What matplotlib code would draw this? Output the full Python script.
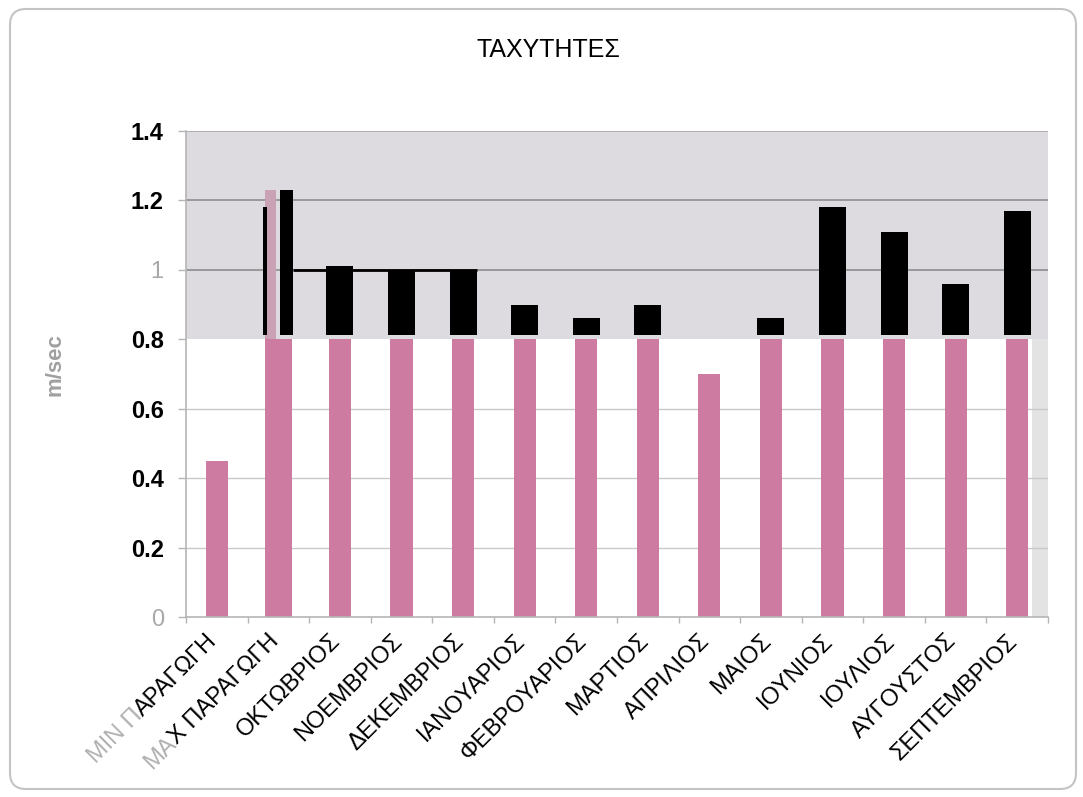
import matplotlib
matplotlib.use("Agg")
import matplotlib.pyplot as plt
import matplotlib.patches as mpatches
import matplotlib.transforms as mtransforms
import numpy as np

plt.rcParams['font.family'] = ['Liberation Sans', 'DejaVu Sans']

# Monthly speeds (m/sec), plus min / max production thresholds
categories = ["MIN ΠΑΡΑΓΩΓΗ", "MAX ΠΑΡΑΓΩΓΗ", "ΟΚΤΩΒΡΙΟΣ", "ΝΟΕΜΒΡΙΟΣ",
              "ΔΕΚΕΜΒΡΙΟΣ", "ΙΑΝΟΥΑΡΙΟΣ", "ΦΕΒΡΟΥΑΡΙΟΣ", "ΜΑΡΤΙΟΣ",
              "ΑΠΡΙΛΙΟΣ", "ΜΑΙΟΣ", "ΙΟΥΝΙΟΣ", "ΙΟΥΛΙΟΣ", "ΑΥΓΟΥΣΤΟΣ",
              "ΣΕΠΤΕΜΒΡΙΟΣ"]
speeds = [0.45, 1.23, 1.01, 1.00, 1.00, 0.90, 0.86, 0.90, 0.70, 0.86,
          1.18, 1.11, 0.96, 1.17]
# greyed-out leading part of the first two labels
label_grey_prefix = ["MIN Π", "MA", "", "", "", "", "", "", "", "", "", "", "", ""]
threshold = 0.8
max_edge_top = 1.18
ref_level = 1.0
y_ticks = [0, 0.2, 0.4, 0.6, 0.8, 1.0, 1.2, 1.4]
y_tick_labels = ["0", "0.2", "0.4", "0.6", "0.8", "1", "1.2", "1.4"]
grey_tick_labels = {"0", "1"}

PINK = "#cd7ba0"
PINK_LIGHT = "#c9a3b5"
BAND = "#dddae0"

W, H = 1083, 797
fig = plt.figure(figsize=(W / 100, H / 100), dpi=100)
fig.patch.set_facecolor("white")

ax = fig.add_axes([186 / W, 1 - 617 / H, (1048 - 186) / W, (617 - 131) / H])
ax.set_xlim(-0.5, len(categories) - 0.5)
ax.set_ylim(0, 1.4)
ax.set_facecolor("white")

x = np.arange(len(categories))
vals = np.array(speeds)

# shaded band above the threshold
ax.axhspan(threshold, 1.4, color=BAND, zorder=0, lw=0)
ax.axvspan(13.24, 13.5, ymax=threshold / 1.4, color="#e3e3e3", zorder=0, lw=0)

# gridlines
for yv in [0.2, 0.4, 0.6]:
    ax.axhline(yv, color="#c9c9c9", lw=1.0, zorder=1)
for yv in [1.0, 1.2]:
    ax.axhline(yv, color="#8e8e8e", lw=1.2, zorder=1)
ax.axhline(1.4, color="#a8a8a8", lw=1.2, zorder=1)

# lower (pink) part of each bar
pink_h = np.minimum(vals, threshold)
pink_w = np.full(len(x), 0.36)
pink_w[1] = 0.44
ax.bar(x, pink_h, width=pink_w, color=PINK, zorder=2, lw=0)

# upper (black) part above the threshold
above = vals > threshold
bx = x[above].astype(float)
bw = np.full(len(bx), 0.44)
bh = vals[above] - 0.812
bx[0] = 1.135
bw[0] = 0.21
ax.bar(bx, bh, width=bw, bottom=0.812, color="black", zorder=2, lw=0)

# max production column details
ax.bar(0.875, vals[1] - threshold, width=0.18, bottom=threshold,
       color=PINK_LIGHT, zorder=2, lw=0)
ax.bar(0.785, max_edge_top - 0.812, width=0.065, bottom=0.812,
       color="black", zorder=2, lw=0)

# reference line at 1.0
ax.plot([1.24, 4.22], [ref_level, ref_level], color="black", lw=2, zorder=3,
        solid_capstyle="butt")

# axes styling
for s in ["top", "right"]:
    ax.spines[s].set_visible(False)
ax.spines["left"].set_color("#b5b5b5")
ax.spines["bottom"].set_color("#b5b5b5")
ax.spines["left"].set_linewidth(1.2)
ax.spines["bottom"].set_linewidth(1.2)

ax.set_yticks(y_ticks)
ax.set_yticklabels(y_tick_labels, fontsize=17, fontweight="bold")
for t in ax.get_yticklabels():
    if t.get_text() in grey_tick_labels:
        t.set_color("#a8a8a8")
        t.set_fontweight("normal")
ax.tick_params(axis="y", length=6, width=1, color="#b5b5b5", pad=10)

ax.set_xticks(np.arange(-0.5, len(categories), 1.0))
ax.set_xticklabels([])
ax.tick_params(axis="x", length=4, width=1, color="#b5b5b5")

ax.set_ylabel("m/sec", fontsize=16, fontweight="bold", color="#a0a0a0")
ax.yaxis.set_label_coords(-0.14, 0.52)

# category labels, rotated 45 degrees
renderer = fig.canvas.get_renderer()
trans = mtransforms.blended_transform_factory(ax.transData, ax.transAxes)
lab_fs = 17
cos45 = np.cos(np.radians(45))
x0_pt, y0_pt = -2, -15
for i, name in enumerate(categories):
    prefix = label_grey_prefix[i]
    rest = name[len(prefix):] if prefix else name
    off = mtransforms.offset_copy(trans, fig=fig, x=x0_pt, y=y0_pt,
                                  units="points")
    ax.text(i, 0, rest, transform=off, rotation=45, rotation_mode="anchor",
            ha="right", va="center", fontsize=lab_fs, color="black",
            clip_on=False)
    if prefix:
        tmp = fig.text(0, 0, rest, fontsize=lab_fs)
        w_px = tmp.get_window_extent(renderer=renderer).width
        tmp.remove()
        w_pt = w_px * 72 / fig.dpi
        off2 = mtransforms.offset_copy(trans, fig=fig,
                                       x=x0_pt - w_pt * cos45,
                                       y=y0_pt - w_pt * cos45, units="points")
        ax.text(i, 0, prefix, transform=off2, rotation=45,
                rotation_mode="anchor", ha="right", va="center",
                fontsize=lab_fs, color="#b0b0b0", clip_on=False)

fig.text(548 / W, 1 - 50 / H, "ΤΑΧΥΤΗΤΕΣ", ha="center", va="center",
         fontsize=18, color="black")

# rounded outer frame
frame = mpatches.FancyBboxPatch((10, 8), 1066, 780,
                                boxstyle="round,pad=0,rounding_size=16",
                                transform=mtransforms.IdentityTransform(),
                                facecolor="none", edgecolor="#c4c4c4", lw=1.5)
fig.add_artist(frame)

fig.savefig("out.png", dpi=100, facecolor="white")
